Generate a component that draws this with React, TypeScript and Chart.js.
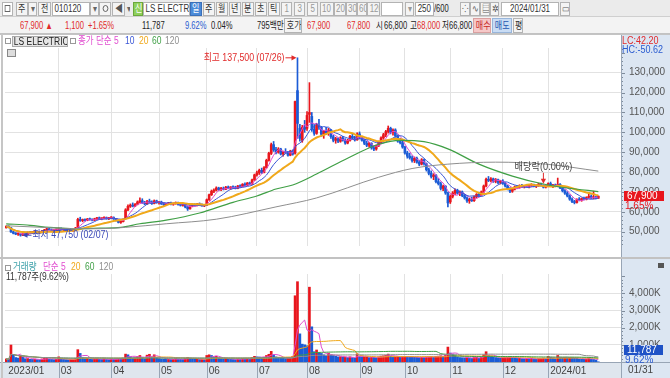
import React, { useEffect, useRef } from 'react';
import { Chart, registerables } from 'chart.js';

Chart.register(...registerables);

// ───────────── chart data ─────────────
const monthTickIdx = [0, 22, 44, 64, 84, 105, 126, 148, 167, 186, 208, 227];
const monthTickLabels = ['2023/01', '03', '04', '05', '06', '07', '08', '09', '10', '11', '12', '2024/01'];
const lastDateLabel = '01/31';
const priceTicks = [50000, 60000, 70000, 80000, 90000, 100000, 110000, 120000, 130000];
const volumeTicks = [1000000, 2000000, 3000000, 4000000];
const highDate = '07/26';
const lowDate = '02/07';
const dividendIdx = 225;
const dividendText = '배당락(0.00%)';

// daily prices, thousand KRW (2023/01/30 .. 2024/01/31)
const opens = [
  52.0, 52.7,
  52.0, 49.9, 49.2, 48.8, 48.9, 48.3, 48.9, 48.6, 49.6, 49.5, 49.8, 50.1, 49.5, 49.8, 50.4, 50.9, 51.5, 51.0, 50.5, 50.8,
  51.2, 51.6, 51.0, 51.3, 50.9, 51.1, 50.6, 50.9, 52.0, 56.2, 55.6, 56.0, 55.7, 56.4, 56.1, 55.8, 56.5, 56.9, 56.5, 56.8, 57.1, 56.6,
  56.9, 57.2, 56.4, 55.6, 54.7, 55.1, 56.5, 61.0, 62.8, 63.4, 62.9, 63.9, 65.0, 65.6, 64.6, 64.0, 65.3, 64.9, 64.2, 65.5,
  64.6, 64.9, 64.0, 63.6, 64.1, 64.4, 63.8, 64.2, 64.6, 63.7, 63.3, 63.6, 62.4, 61.5, 62.9, 63.5, 63.2, 64.0, 63.5, 63.0,
  63.3, 66.1, 68.6, 70.4, 70.9, 72.0, 71.2, 71.8, 71.4, 72.4, 72.0, 72.5, 72.2, 71.8, 73.0, 72.7, 73.9, 73.3, 74.5, 74.0, 76.1,
  78.6, 79.6, 80.9, 79.8, 82.2, 85.9, 89.4, 93.8, 91.2, 90.0, 91.6, 89.1, 90.2, 89.8, 88.5, 90.6, 89.5, 121.0, 102.0, 96.0, 102.5,
  102.0, 109.0, 108.0, 101.5, 99.5, 103.5, 102.5, 99.0, 100.5, 99.8, 101.2, 97.8, 96.0, 96.8, 95.5, 97.2, 96.0, 94.6, 96.0, 98.0, 97.3, 96.2,
  99.2, 97.4, 96.0, 94.5, 93.5, 94.4, 92.2, 91.6, 93.2, 95.0, 97.2, 98.8, 100.4, 102.0, 100.0, 101.2, 98.2, 95.6, 94.8,
  92.6, 89.6, 88.0, 87.2, 85.8, 86.9, 85.0, 84.0, 86.2, 84.2, 81.2, 79.4, 77.8, 78.5, 75.2, 74.2, 71.8, 72.9, 69.5,
  65.0, 67.8, 69.5, 70.8, 69.4, 70.0, 68.2, 67.0, 65.5, 66.2, 65.6, 67.6, 68.8, 68.4, 70.0, 73.0, 76.4, 75.8, 76.6, 75.4, 76.2, 74.8,
  75.5, 74.3, 73.0, 71.6, 70.4, 71.4, 72.6, 72.2, 73.2, 72.6, 73.0, 72.8, 73.3, 73.6, 72.9, 73.2, 74.0, 73.0, 72.4,
  73.1, 74.2, 73.0, 73.5, 72.9, 73.8, 72.0, 70.6, 69.4, 68.0, 66.4, 65.2, 64.7, 66.2, 65.9, 66.7, 66.3, 67.2, 67.8, 67.0, 67.5, 66.8,
];
const highs = [
  53.0, 53.0,
  52.2, 50.3, 49.6, 49.4, 49.0, 49.2, 49.5, 49.9, 50.2, 50.0, 50.4, 50.3, 50.0, 50.6, 51.2, 51.8, 51.9, 51.4, 51.0, 51.5,
  52.0, 51.9, 51.6, 51.7, 51.4, 51.5, 51.2, 52.2, 56.8, 57.3, 56.4, 56.5, 56.7, 56.9, 56.5, 56.8, 57.2, 57.4, 57.0, 57.5, 57.4, 57.2,
  57.6, 57.5, 56.7, 55.9, 55.4, 56.5, 61.6, 63.5, 64.0, 64.5, 64.2, 65.5, 67.0, 66.6, 65.3, 65.8, 66.4, 65.6, 66.0, 65.9,
  65.2, 65.4, 64.6, 64.3, 64.8, 64.9, 64.5, 65.0, 64.9, 64.2, 63.9, 63.8, 63.0, 63.2, 63.8, 64.1, 64.3, 64.5, 64.0, 63.6,
  66.5, 69.0, 71.0, 71.6, 72.6, 72.4, 72.3, 72.5, 72.8, 73.0, 72.7, 73.1, 72.9, 73.3, 73.6, 74.2, 74.6, 74.8, 75.0, 76.5, 79.0,
  80.5, 81.5, 82.0, 82.8, 86.5, 90.0, 94.6, 95.4, 92.5, 92.3, 92.0, 90.6, 91.8, 90.4, 91.0, 91.2, 115.7, 137.5, 104.0, 103.5, 106.0,
  110.5, 125.0, 110.0, 104.0, 104.5, 106.5, 103.0, 101.0, 102.5, 102.0, 101.5, 98.5, 97.5, 97.2, 97.8, 98.0, 96.8, 96.5, 98.5, 99.5, 98.0, 99.8,
  100.2, 98.0, 96.6, 95.5, 95.0, 94.8, 93.0, 93.6, 95.5, 97.8, 99.5, 101.0, 103.2, 102.6, 101.8, 101.8, 98.8, 97.0, 95.5,
  93.0, 90.5, 89.5, 88.2, 87.6, 87.5, 86.0, 86.8, 86.6, 84.6, 82.0, 80.6, 79.2, 78.8, 76.8, 75.0, 73.5, 73.2, 70.0,
  68.5, 70.2, 71.6, 71.4, 70.6, 70.5, 68.8, 67.6, 66.8, 67.4, 68.0, 69.2, 69.8, 70.5, 73.5, 77.0, 77.8, 77.2, 77.0, 76.8, 76.5, 75.9,
  76.2, 74.8, 73.4, 72.2, 71.8, 73.0, 73.4, 73.6, 73.8, 73.3, 73.9, 73.5, 74.2, 74.0, 73.6, 74.4, 74.5, 73.6, 73.5,
  74.6, 75.0, 73.8, 74.0, 77.0, 74.2, 72.4, 71.2, 70.2, 68.6, 67.0, 65.8, 66.6, 67.2, 67.0, 67.4, 67.6, 69.8, 68.6, 70.4, 67.9, 68.0,
];
const lows = [
  51.8, 51.9,
  49.6, 48.9, 48.5, 48.2, 47.75, 48.0, 48.4, 48.5, 49.2, 49.0, 49.4, 49.3, 49.1, 49.6, 50.1, 50.6, 50.8, 50.2, 50.0, 50.5,
  50.9, 50.8, 50.5, 50.7, 50.4, 50.3, 50.2, 50.8, 51.9, 55.2, 55.0, 55.3, 55.5, 55.8, 55.4, 55.6, 56.1, 56.2, 56.0, 56.4, 56.3, 56.1,
  56.5, 56.2, 55.3, 54.4, 54.2, 54.9, 56.3, 60.6, 62.2, 62.5, 62.6, 63.5, 64.6, 64.2, 63.6, 63.8, 64.6, 63.8, 64.0, 64.3,
  63.9, 63.7, 63.2, 63.1, 63.6, 63.5, 63.3, 63.8, 63.4, 62.9, 62.8, 62.0, 60.7, 61.3, 62.5, 62.9, 63.0, 63.2, 62.8, 62.6,
  63.1, 65.8, 68.2, 69.6, 70.5, 70.8, 70.7, 71.0, 71.2, 71.6, 71.3, 71.8, 71.5, 71.6, 72.3, 72.5, 72.9, 73.1, 73.6, 73.8, 75.8,
  77.9, 78.8, 79.3, 79.6, 82.0, 85.5, 88.8, 90.4, 89.2, 89.5, 88.6, 88.0, 89.4, 88.0, 88.2, 88.5, 89.0, 97.0, 95.5, 95.0, 100.0,
  101.0, 105.0, 100.5, 98.5, 99.0, 101.5, 98.0, 97.0, 99.0, 98.5, 97.0, 95.2, 94.5, 94.8, 95.0, 95.5, 94.0, 94.2, 95.6, 96.8, 95.6, 96.0,
  96.8, 95.5, 93.8, 92.8, 92.6, 91.5, 90.8, 91.0, 92.8, 94.6, 96.5, 97.8, 99.6, 99.2, 98.6, 97.5, 95.0, 94.2, 92.0,
  89.0, 87.0, 86.5, 85.0, 84.8, 84.5, 83.2, 83.6, 83.5, 80.5, 78.6, 77.0, 76.2, 74.6, 73.5, 71.0, 70.6, 68.8, 62.5,
  64.2, 67.0, 68.6, 68.9, 68.2, 67.6, 66.4, 64.8, 64.3, 65.2, 65.3, 67.0, 67.9, 68.0, 69.8, 72.6, 75.2, 75.0, 74.8, 74.6, 74.2, 74.0,
  73.8, 72.5, 71.0, 69.7, 69.8, 71.0, 71.8, 71.9, 72.2, 72.0, 72.4, 72.0, 72.8, 72.5, 72.2, 72.8, 72.9, 72.0, 72.0,
  72.6, 72.8, 72.2, 72.6, 72.6, 71.6, 70.0, 68.8, 67.5, 65.8, 64.6, 64.0, 64.4, 65.5, 65.3, 66.0, 66.0, 66.8, 66.6, 66.5, 66.5, 66.8,
];
const closes = [
  52.7, 52.1,
  49.9, 49.2, 48.8, 49.1, 48.3, 48.9, 48.6, 49.6, 49.5, 49.8, 50.1, 49.5, 49.8, 50.4, 50.9, 51.5, 51.0, 50.5, 50.8, 51.2,
  51.6, 51.0, 51.3, 50.9, 51.1, 50.6, 50.9, 51.8, 56.2, 55.6, 56.0, 55.7, 56.4, 56.1, 55.8, 56.5, 56.9, 56.5, 56.8, 57.1, 56.6, 56.9,
  57.2, 56.4, 55.6, 54.7, 55.1, 56.2, 61.0, 62.8, 63.4, 62.9, 63.9, 65.0, 65.6, 64.6, 64.0, 65.3, 64.9, 64.2, 65.5, 64.6,
  64.9, 64.0, 63.6, 64.1, 64.4, 63.8, 64.2, 64.6, 63.7, 63.3, 63.6, 62.4, 61.5, 62.9, 63.5, 63.2, 64.0, 63.5, 63.0, 63.3,
  66.1, 68.6, 70.4, 70.9, 72.0, 71.2, 71.8, 71.4, 72.4, 72.0, 72.5, 72.2, 71.8, 73.0, 72.7, 73.9, 73.3, 74.5, 74.0, 76.1, 78.6,
  79.6, 80.9, 79.8, 82.2, 85.9, 89.4, 93.8, 91.2, 90.0, 91.6, 89.1, 90.2, 89.8, 88.5, 90.6, 89.0, 115.5, 104.5, 97.0, 102.5, 101.5,
  108.5, 110.0, 101.5, 99.5, 103.5, 102.5, 99.0, 100.5, 99.8, 101.2, 97.8, 96.0, 96.8, 95.5, 97.2, 96.0, 94.6, 96.0, 98.0, 97.3, 96.2, 99.2,
  97.4, 96.0, 94.5, 93.5, 94.4, 92.2, 91.6, 93.2, 95.0, 97.2, 98.8, 100.4, 102.0, 100.0, 101.2, 98.2, 95.6, 94.8, 92.6,
  89.6, 88.0, 87.2, 85.8, 86.9, 85.0, 84.0, 86.2, 84.2, 81.2, 79.4, 77.8, 78.5, 75.2, 74.2, 71.8, 72.9, 69.5, 64.5,
  67.8, 69.5, 70.8, 69.4, 70.0, 68.2, 67.0, 65.5, 66.2, 65.6, 67.6, 68.8, 68.4, 70.0, 73.0, 76.4, 75.8, 76.6, 75.4, 76.2, 74.8, 75.5,
  74.3, 73.0, 71.6, 70.4, 71.4, 72.6, 72.2, 73.2, 72.6, 73.0, 72.8, 73.3, 73.6, 72.9, 73.2, 74.0, 73.3, 72.4, 73.1,
  74.2, 73.0, 73.5, 72.9, 73.8, 72.0, 70.6, 69.4, 68.0, 66.4, 65.2, 64.7, 66.2, 65.9, 66.7, 66.3, 67.2, 67.8, 67.0, 67.5, 66.8, 67.9,
];
// daily volume, thousand shares
const volumes = [
  180, 150,
  990, 420, 260, 230, 360, 300, 190, 200, 160, 150, 170, 140, 130, 180, 210, 240, 170, 150, 140, 160,
  300, 180, 150, 140, 130, 140, 150, 220, 720, 500, 260, 200, 210, 170, 150, 190, 200, 160, 150, 180, 150, 140,
  170, 150, 170, 200, 180, 230, 460, 420, 300, 240, 250, 310, 380, 260, 200, 400, 450, 300, 420, 260,
  200, 180, 170, 160, 170, 150, 160, 190, 170, 160, 150, 200, 260, 220, 180, 160, 170, 150, 160, 150,
  380, 420, 380, 300, 330, 220, 200, 180, 210, 170, 160, 150, 140, 190, 160, 210, 180, 200, 160, 260, 330,
  300, 290, 240, 280, 380, 450, 620, 420, 300, 260, 240, 230, 200, 210, 240, 330, 3860, 4680, 1640, 1040, 1000,
  950, 4360, 2050, 600, 700, 550, 500, 420, 360, 520, 400, 380, 330, 300, 310, 280, 290, 260, 300, 260, 240, 480,
  320, 280, 290, 300, 260, 280, 270, 250, 300, 340, 360, 380, 460, 330, 280, 300, 320, 290, 310,
  330, 310, 300, 290, 280, 270, 260, 280, 270, 300, 310, 320, 290, 330, 340, 360, 330, 400, 870,
  520, 460, 380, 300, 260, 250, 240, 260, 230, 210, 260, 270, 220, 280, 420, 600, 400, 320, 280, 260, 250, 230,
  240, 260, 270, 290, 250, 240, 210, 220, 200, 190, 200, 190, 210, 180, 170, 200, 210, 230, 200,
  320, 280, 220, 200, 380, 260, 240, 250, 240, 260, 250, 230, 220, 180, 170, 160, 180, 260, 170, 150, 122.53, 11.787,
];
// 60 / 120 day price averages (bar index, thousand KRW)
const ma60Idx = [0, 10, 18, 29, 39, 48, 56, 67, 81, 95, 105, 113, 120, 130, 143, 156, 165, 175, 185, 198, 212, 225, 235, 248];
const ma60Val = [54.0, 53.2, 52.2, 51.5, 51.8, 52.2, 54.0, 55.8, 59.4, 64.8, 68.0, 71.5, 73.5, 79.0, 87.0, 94.0, 96.0, 95.3, 91.7, 84.0, 78.0, 74.0, 72.0, 70.2];
const ma120Idx = [0, 15, 27, 39, 50, 67, 88, 113, 130, 156, 170, 185, 205, 226, 248];
const ma120Val = [53.0, 52.2, 51.6, 51.5, 52.2, 54.0, 56.3, 62.5, 67.0, 77.4, 81.8, 84.0, 85.0, 84.0, 80.5];

// ───────────── styling ─────────────
const F_NUM = '"Liberation Sans Narrow", "Liberation Sans", "Noto Sans CJK KR", sans-serif';
const C_UP = '#e8161d';
const C_DOWN = '#1c5cd6';
const C_MA5 = '#e04ccf';
const C_MA10 = '#3a56d6';
const C_MA20 = '#f0a81a';
const C_MA60 = '#3f9f45';
const C_MA120 = '#8e8e8e';
const GRID = '#e2e2e2';
const PANEL_BG = '#dce6f2';
const STRIP_BG = '#dfe6ee';
const X_MIN = -0.5;
const X_MAX = 257.5;

Chart.defaults.font.family = F_NUM;

function sma(src: number[], n: number): number[] {
  const out: number[] = [];
  let s = 0;
  for (let i = 0; i < src.length; i++) {
    s += src[i];
    if (i >= n) s -= src[i - n];
    out.push(s / Math.min(i + 1, n));
  }
  return out;
}
const fmt = (v: number) => Math.round(v).toLocaleString('en-US');

function narrowText(ctx: CanvasRenderingContext2D, text: string, x: number, y: number, align: string, k = 0.88) {
  ctx.save();
  ctx.translate(x, y);
  ctx.scale(k, 1);
  ctx.textAlign = align as CanvasTextAlign;
  ctx.fillText(text, 0, 0);
  ctx.restore();
}

function arrow(ctx: CanvasRenderingContext2D, x1: number, y1: number, x2: number, y2: number, color: string) {
  const a = Math.atan2(y2 - y1, x2 - x1);
  ctx.strokeStyle = color;
  ctx.fillStyle = color;
  ctx.lineWidth = 1;
  ctx.beginPath();
  ctx.moveTo(x1, y1);
  ctx.lineTo(x2 - 3 * Math.cos(a), y2 - 3 * Math.sin(a));
  ctx.stroke();
  ctx.beginPath();
  ctx.moveTo(x2, y2);
  ctx.lineTo(x2 - 5 * Math.cos(a) + 2.6 * Math.sin(a), y2 - 5 * Math.sin(a) - 2.6 * Math.cos(a));
  ctx.lineTo(x2 - 5 * Math.cos(a) - 2.6 * Math.sin(a), y2 - 5 * Math.sin(a) + 2.6 * Math.cos(a));
  ctx.closePath();
  ctx.fill();
}

function panelPlugin(minor: number, major: number, strip: boolean) {
  return {
    id: 'panel',
    beforeDraw(chart: any) {
      const { ctx, chartArea: a, width, height } = chart;
      ctx.save();
      ctx.fillStyle = PANEL_BG;
      ctx.fillRect(a.right, 0, width - a.right, height);
      if (strip) {
        ctx.fillStyle = STRIP_BG;
        ctx.fillRect(0, a.bottom, a.right, height - a.bottom);
      }
      ctx.restore();
    },
    afterDraw(chart: any) {
      const { ctx, chartArea: a, width, height } = chart;
      const ys = chart.scales.y;
      const xs = chart.scales.x;
      ctx.save();
      ctx.strokeStyle = '#7f8c9b';
      ctx.lineWidth = 1;
      ctx.beginPath();
      for (let v = Math.ceil(ys.min / minor) * minor; v <= ys.max; v += minor) {
        const y = Math.round(ys.getPixelForValue(v)) + 0.5;
        const len = v % major === 0 ? 4 : 2;
        ctx.moveTo(a.right, y);
        ctx.lineTo(a.right + len, y);
      }
      ctx.stroke();
      ctx.strokeStyle = '#98a5b5';
      ctx.beginPath();
      ctx.moveTo(a.right + 0.5, 0);
      ctx.lineTo(a.right + 0.5, height);
      ctx.stroke();
      if (strip) {
        ctx.beginPath();
        ctx.moveTo(0, a.bottom + 0.5);
        ctx.lineTo(width, a.bottom + 0.5);
        monthTickIdx.forEach((m) => {
          if (m === 0) return;
          const x = Math.round(xs.getPixelForValue(m)) + 0.5;
          ctx.moveTo(x, a.bottom);
          ctx.lineTo(x, height);
        });
        ctx.stroke();
        ctx.fillStyle = '#444';
        ctx.font = `10px ${F_NUM}`;
        ctx.textBaseline = 'middle';
        ctx.textAlign = 'left';
        ctx.fillText(lastDateLabel, a.right + 7, a.bottom + 8.5);
      }
      ctx.restore();
    },
  };
}

const priceAnnotations = {
  id: 'priceAnnotations',
  afterDatasetsDraw(chart: any) {
    const { ctx } = chart;
    const xs = chart.scales.x;
    const ys = chart.scales.y;
    ctx.save();
    ctx.font = `10px ${F_NUM}`;
    ctx.textBaseline = 'middle';
    let hi = 0;
    let lo = 0;
    highs.forEach((v, i) => { if (v > highs[hi]) hi = i; });
    lows.forEach((v, i) => { if (v < lows[lo]) lo = i; });
    // highest
    const hx = xs.getPixelForValue(hi);
    const hy = ys.getPixelForValue(highs[hi] * 1000);
    ctx.fillStyle = '#e12a2a';
    narrowText(ctx, `최고 ${fmt(highs[hi] * 1000)} (${highDate})`, hx - 13, hy + 0.5, 'right');
    arrow(ctx, hx - 12, hy, hx - 1, hy, '#e12a2a');
    // lowest
    const lx = xs.getPixelForValue(lo);
    const ly = ys.getPixelForValue(lows[lo] * 1000);
    ctx.fillStyle = '#3a48b8';
    narrowText(ctx, `최저 ${fmt(lows[lo] * 1000)} (${lowDate})`, lx + 12, ly - 1, 'left');
    arrow(ctx, lx + 11, ly - 1, lx + 2, ly - 1, '#3a48b8');
    // ex-dividend
    const dx = xs.getPixelForValue(dividendIdx);
    const dy = ys.getPixelForValue(highs[dividendIdx] * 1000);
    ctx.fillStyle = '#444';
    narrowText(ctx, dividendText, dx, dy - 18, 'center', 0.92);
    arrow(ctx, dx, dy - 12, dx, dy - 1, '#e12a2a');
    ctx.restore();
  },
  afterDraw(chart: any) {
    const { ctx, chartArea: a } = chart;
    const ys = chart.scales.y;
    const n = closes.length - 1;
    const py = ys.getPixelForValue(closes[n] * 1000);
    const pct = ((closes[n] - closes[n - 1]) / closes[n - 1]) * 100;
    ctx.save();
    ctx.fillStyle = C_UP;
    ctx.fillRect(a.right + 3, Math.round(py) - 5, 40, 10);
    ctx.font = `10px ${F_NUM}`;
    ctx.textBaseline = 'middle';
    ctx.textAlign = 'left';
    ctx.fillStyle = '#fff';
    ctx.fillText(fmt(closes[n] * 1000), a.right + 6, Math.round(py) + 0.5);
    ctx.fillStyle = C_UP;
    ctx.fillText(`${pct.toFixed(2)}%`, a.right + 4, Math.round(py) + 10);
    ctx.restore();
  },
};

const volumeMarker = {
  id: 'volumeMarker',
  afterDraw(chart: any) {
    const { ctx, chartArea: a } = chart;
    const ys = chart.scales.y;
    const n = volumes.length - 1;
    const py = Math.min(ys.getPixelForValue(volumes[n] * 1000) - 5, a.bottom - 17);
    const pct = (volumes[n] / volumes[n - 1]) * 100;
    ctx.save();
    ctx.fillStyle = '#1f52c6';
    ctx.fillRect(a.right + 3, Math.round(py), 39, 10);
    ctx.font = `10px ${F_NUM}`;
    ctx.textBaseline = 'middle';
    ctx.textAlign = 'left';
    ctx.fillStyle = '#fff';
    ctx.fillText(fmt(volumes[n] * 1000), a.right + 6, Math.round(py) + 5.5);
    ctx.fillStyle = '#2a5bd0';
    ctx.fillText(`${pct.toFixed(2)}%`, a.right + 4, Math.round(py) + 15);
    ctx.restore();
  },
};

function xScale(showLabels: boolean) {
  return {
    type: 'linear',
    min: X_MIN,
    max: X_MAX,
    offset: false,
    afterBuildTicks: (s: any) => { s.ticks = monthTickIdx.map((v) => ({ value: v })); },
    afterFit: (s: any) => { s.height = showLabels ? 16 : 0; },
    grid: {
      offset: false,
      drawTicks: false,
      color: (c: any) => (c.tick && c.tick.value === 0 ? 'rgba(0,0,0,0)' : GRID),
    },
    border: { display: false },
    ticks: showLabels
      ? {
          display: true,
          autoSkip: false,
          maxRotation: 0,
          align: 'start',
          labelOffset: 2,
          padding: 3,
          color: '#444',
          font: { size: 10, family: F_NUM },
          callback: (v: number) => {
            const k = monthTickIdx.indexOf(v);
            return k >= 0 ? monthTickLabels[k] : '';
          },
        }
      : { display: false },
  };
}

function lineDs(data: any[], color: string, width: number, smooth = false) {
  return {
    type: 'line',
    data,
    borderColor: color,
    borderWidth: width,
    pointRadius: 0,
    fill: false,
    tension: smooth ? 0.4 : 0,
    cubicInterpolationMode: smooth ? 'monotone' : 'default',
    order: 1,
  };
}

function priceConfig(): any {
  const idx = closes.map((_, i) => i);
  const colors = idx.map((i) => (closes[i] >= opens[i] ? C_UP : C_DOWN));
  const ma = (n: number) => sma(closes, n).map((v, i) => ({ x: i, y: v * 1000 }));
  return {
    type: 'bar',
    data: {
      datasets: [
        {
          type: 'bar',
          data: idx.map((i) => ({ x: i, y: [lows[i] * 1000, highs[i] * 1000] })),
          backgroundColor: colors,
          barThickness: 1,
          grouped: false,
          order: 3,
        },
        {
          type: 'bar',
          data: idx.map((i) => ({ x: i, y: [opens[i] * 1000, closes[i] * 1000] })),
          backgroundColor: colors,
          barThickness: 2,
          minBarLength: 1,
          grouped: false,
          order: 2,
        },
        lineDs(ma120Idx.map((x, k) => ({ x, y: ma120Val[k] * 1000 })), C_MA120, 1, true),
        lineDs(ma60Idx.map((x, k) => ({ x, y: ma60Val[k] * 1000 })), C_MA60, 1.2, true),
        lineDs(ma(20), C_MA20, 2),
        lineDs(ma(10), C_MA10, 1),
        lineDs(ma(5), C_MA5, 1),
      ],
    },
    options: {
      responsive: false,
      animation: false,
      devicePixelRatio: 1,
      events: [],
      layout: { padding: { left: 5, right: 0, top: 1, bottom: 3 } },
      plugins: { legend: { display: false }, tooltip: { enabled: false } },
      scales: {
        x: xScale(false),
        y: {
          position: 'right',
          min: 42820,
          max: 142430,
          afterBuildTicks: (s: any) => { s.ticks = priceTicks.map((v) => ({ value: v })); },
          afterFit: (s: any) => { s.width = 49; },
          grid: { color: GRID, drawTicks: false },
          border: { display: false },
          ticks: {
            padding: 8,
            color: '#555',
            font: { size: 10, family: F_NUM },
            callback: (v: number) => fmt(v),
          },
        },
      },
    },
    plugins: [panelPlugin(2000, 10000, false), priceAnnotations],
  };
}

function volumeConfig(): any {
  const idx = volumes.map((_, i) => i);
  const colors = idx.map((i) => (i === 0 || volumes[i] >= volumes[i - 1] ? C_UP : C_DOWN));
  const ma = (n: number) => sma(volumes, n).map((v, i) => ({ x: i, y: v * 1000 }));
  return {
    type: 'bar',
    data: {
      datasets: [
        {
          type: 'bar',
          data: idx.map((i) => ({ x: i, y: volumes[i] * 1000 })),
          backgroundColor: colors,
          barThickness: 2,
          grouped: false,
          order: 2,
        },
        lineDs(ma(120), C_MA120, 1),
        lineDs(ma(60), C_MA60, 1),
        lineDs(ma(20), C_MA20, 1),
        lineDs(ma(5), C_MA5, 1),
      ],
    },
    options: {
      responsive: false,
      animation: false,
      devicePixelRatio: 1,
      events: [],
      layout: { padding: { left: 5, right: 0, top: 2, bottom: 0 } },
      plugins: { legend: { display: false }, tooltip: { enabled: false } },
      scales: {
        x: xScale(true),
        y: {
          position: 'right',
          min: 0,
          max: 5128000,
          afterBuildTicks: (s: any) => { s.ticks = volumeTicks.map((v) => ({ value: v })); },
          afterFit: (s: any) => { s.width = 49; },
          grid: { color: GRID, drawTicks: false },
          border: { display: false },
          ticks: {
            padding: 8,
            color: '#555',
            font: { size: 10, family: F_NUM },
            callback: (v: number) => `${fmt(v / 1000)}K`,
          },
        },
      },
    },
    plugins: [panelPlugin(200000, 1000000, true), volumeMarker],
  };
}

// ───────────── HTML chrome ─────────────
const T = ({ x, y, color = '#222', size = 10, sx = 0.76, children }: any) => (
  <span
    style={{
      position: 'absolute', left: x, top: y, color, fontSize: size, lineHeight: '12px', whiteSpace: 'nowrap',
      transform: `scaleX(${sx})`, transformOrigin: 'left center', fontFamily: F_NUM,
    }}
  >
    {children}
  </span>
);

const B = ({ x, w, y = 2, h = 14, bg = '#f4f4f4', color = '#333', border = '#b3b3b3', align = 'center', sx = 0.8, children }: any) => (
  <div
    style={{
      position: 'absolute', left: x, top: y, width: w, height: h, boxSizing: 'border-box', border: `1px solid ${border}`,
      background: bg, color, fontSize: 10, lineHeight: `${h - 2}px`, textAlign: align, overflow: 'hidden',
      whiteSpace: 'nowrap', fontFamily: F_NUM,
    }}
  >
    <span style={{ display: 'inline-block', transform: `scaleX(${sx})`, transformOrigin: align === 'left' ? 'left center' : 'center', paddingLeft: align === 'left' ? 2 : 0 }}>
      {children}
    </span>
  </div>
);

function Toolbar() {
  const periods = [
    [203, '주'], [216, '월'], [229, '년'], [242, '분'], [255, '초'], [268, '틱'],
  ];
  const nums = [
    [281, 11, '1'], [294, 11, '3'], [307, 11, '5'], [320, 14, '10'], [334, 12, '20'], [346, 11, '30'], [357, 10, '60'], [367, 13, '120'],
  ];
  return (
    <>
      <div style={{ position: 'absolute', left: 0, top: 0, width: 670, height: 17, background: '#ebebeb', borderBottom: '1px solid #cfcfcf', boxSizing: 'border-box' }} />
      <div style={{ position: 'absolute', left: 0, top: 17, width: 670, height: 17, background: '#f3f3f3', borderBottom: '1px solid #c2c2c2', boxSizing: 'border-box' }} />
      <B x={2} w={11} bg="#fff">
        <span style={{ display: 'inline-block', width: 5, height: 5, border: '1px solid #666' }} />
      </B>
      <B x={16} w={12}>주</B>
      <B x={28} w={9} color="#666">▾</B>
      <B x={38} w={13}>전</B>
      <B x={52} w={38} bg="#fff" align="left">010120</B>
      <B x={90} w={9} color="#666">▾</B>
      <B x={99} w={12} bg="#f4f4f4">
        <span style={{ display: 'inline-block', width: 5, height: 5, borderRadius: 4, border: '1px solid #555', marginTop: 2 }} />
      </B>
      <B x={112} w={13} color="#555">◀</B>
      <B x={125} w={6} border="#ebebeb" bg="#ebebeb" color="#666">▾</B>
      <B x={133} w={10} bg="#8fd05a" color="#fff" border="#6aa83c">신</B>
      <B x={143} w={47} bg="#fff" align="left" sx={0.8}>LS ELECTRI</B>
      <B x={190} w={12} bg="#4a8ad8" color="#fff" border="#3a6fb8">일</B>
      {periods.map(([x, t]) => (
        <B key={`p${x}`} x={x} w={12}>{t}</B>
      ))}
      {nums.map(([x, w, t]) => (
        <B key={`n${x}`} x={x} w={w} color="#999">{t}</B>
      ))}
      <B x={381} w={22} bg="#fff">{''}</B>
      <B x={405} w={9} color="#999">▾</B>
      <B x={415} w={19} bg="#fff">250</B>
      <T x={434} y={3}>/600</T>
      <B x={460} w={10} color="#555">⁘</B>
      <B x={470} w={10} color="#555">∿</B>
      <B x={480} w={10} color="#555">▤</B>
      <B x={490} w={9} color="#555">✲</B>
      <B x={501} w={58} bg="#fff">2024/01/31</B>
      <B x={560} w={10} color="#555">▭</B>

      <T x={20} y={20} color="#e12a2a">67,900 ▲</T>
      <T x={65} y={20} color="#e12a2a">1,100</T>
      <T x={88} y={20} color="#e12a2a">+1.65%</T>
      <T x={142} y={20}>11,787</T>
      <T x={185} y={20} color="#2a5bd0">9.62%</T>
      <T x={211} y={20}>0.04%</T>
      <T x={257} y={20}>795백만</T>
      <B x={284} y={18} w={18} h={15}>호가</B>
      <T x={307} y={20} color="#e12a2a">67,900</T>
      <T x={347} y={20} color="#e12a2a">67,800</T>
      <T x={376} y={20}>시</T>
      <T x={384} y={20}>66,800</T>
      <T x={410} y={20}>고</T>
      <T x={417} y={20} color="#e12a2a">68,000</T>
      <T x={442} y={20}>저</T>
      <T x={449} y={20}>66,800</T>
      <B x={473} y={18} w={18} h={15} bg="#f6c8c8" color="#c62828" border="#d9a0a0">매수</B>
      <B x={492} y={18} w={20} h={15} bg="#c9dcf4" color="#2456b0" border="#98b5da">매도</B>
      <B x={513} y={18} w={10} h={15}>평</B>
    </>
  );
}

function Overlays() {
  return (
    <>
      {/* frame lines */}
      <div style={{ position: 'absolute', left: 0, top: 34, width: 670, height: 1, background: '#c4c4c4' }} />
      <div style={{ position: 'absolute', left: 1, top: 34, width: 2, height: 344, background: '#c6c6c6' }} />
      <div style={{ position: 'absolute', left: 0, top: 257, width: 670, height: 2, background: '#c2c2c2' }} />

      {/* price legend */}
      <span style={{ position: 'absolute', left: 5, top: 38, width: 4, height: 4, border: '1px solid #999', background: '#fff' }} />
      <div style={{ position: 'absolute', left: 12, top: 36, width: 56, height: 11, boxSizing: 'border-box', border: '1px solid #aaa', background: '#e6e6e6', fontSize: 10, lineHeight: '9px', color: '#222', whiteSpace: 'nowrap', overflow: 'hidden' }}>
        <span style={{ display: 'inline-block', transform: 'scaleX(0.85)', transformOrigin: 'left center', paddingLeft: 1 }}>LS ELECTRIC</span>
      </div>
      <span style={{ position: 'absolute', left: 70, top: 38, width: 4, height: 4, border: '1px solid #999', background: '#fff' }} />
      <T x={78} y={35} color={C_MA5} sx={0.85}>종가 단순 5</T>
      <T x={125} y={35} color={C_MA10} sx={0.85}>10</T>
      <T x={139} y={35} color={C_MA20} sx={0.85}>20</T>
      <T x={152} y={35} color={C_MA60} sx={0.85}>60</T>
      <T x={165} y={35} color={C_MA120} sx={0.85}>120</T>
      <div style={{ position: 'absolute', left: 7, top: 49, width: 9, height: 8, boxSizing: 'border-box', border: '1px solid #888', background: '#ddd' }} />

      {/* right panel header */}
      <T x={622} y={35} color="#e12a2a" sx={0.9}>LC:42.20</T>
      <T x={622} y={44} color="#2a5bd0" sx={0.9}>HC:-50.62</T>

      {/* volume legend */}
      <span style={{ position: 'absolute', left: 5, top: 265, width: 4, height: 4, border: '1px solid #999', background: '#fff' }} />
      <T x={13} y={261} color="#3a9fa8" sx={0.85}>거래량</T>
      <T x={43} y={261} color={C_MA5} sx={0.85}>단순 5</T>
      <T x={71} y={261} color={C_MA20} sx={0.85}>20</T>
      <T x={85} y={261} color={C_MA60} sx={0.85}>60</T>
      <T x={99} y={261} color={C_MA120} sx={0.85}>120</T>
      <T x={6} y={271} color="#333" sx={0.85}>11,787주(9.62%)</T>
      <div style={{ position: 'absolute', left: 658, top: 263, width: 6, height: 5, background: '#555' }} />
    </>
  );
}

export default function App() {
  const priceRef = useRef<HTMLCanvasElement>(null);
  const volRef = useRef<HTMLCanvasElement>(null);
  useEffect(() => {
    const p = new Chart(priceRef.current as HTMLCanvasElement, priceConfig());
    const v = new Chart(volRef.current as HTMLCanvasElement, volumeConfig());
    return () => {
      p.destroy();
      v.destroy();
    };
  }, []);
  return (
    <div style={{ position: 'relative', width: 670, height: 378, overflow: 'hidden', background: '#fff', fontFamily: F_NUM }}>
      <style>{'html,body{margin:0;padding:0;background:#fff;}'}</style>
      <Toolbar />
      <canvas ref={priceRef} width={670} height={226} style={{ position: 'absolute', left: 0, top: 34, width: 670, height: 226 }} />
      <canvas ref={volRef} width={670} height={118} style={{ position: 'absolute', left: 0, top: 260, width: 670, height: 118 }} />
      <Overlays />
    </div>
  );
}
